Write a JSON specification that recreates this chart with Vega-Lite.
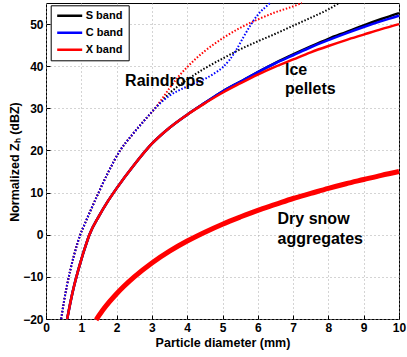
{
  "$schema": "https://vega.github.io/schema/vega-lite/v6.json",
  "width": 353,
  "height": 316,
  "autosize": {"type": "none"},
  "padding": {"left": 46, "top": 3, "right": 8, "bottom": 38},
  "config": {
    "font": "Liberation Sans",
    "view": {"stroke": "black", "strokeWidth": 1},
    "axis": {
      "grid": true,
      "gridDash": [1, 3],
      "gridColor": "#a8a8a8",
      "gridWidth": 1,
      "domain": false,
      "ticks": true,
      "tickSize": -4,
      "tickColor": "black",
      "labelFont": "Liberation Sans",
      "labelFontSize": 12,
      "labelFontWeight": "bold",
      "labelColor": "black",
      "labelFlush": false,
      "labelOverlap": false,
      "titleFont": "Liberation Sans",
      "titleFontSize": 12.5,
      "titleFontWeight": "bold",
      "titleColor": "black"
    },
    "axisX": {"labelPadding": 7},
    "axisY": {"labelPadding": 7}
  },
  "datasets": {
    "ice": [
      {"band": "S band", "d": 0.6, "z": -20}, {"band": "S band", "d": 0.7, "z": -15.7}, {"band": "S band", "d": 0.8, "z": -12.0},
      {"band": "S band", "d": 0.9, "z": -8.8}, {"band": "S band", "d": 1.0, "z": -5.9}, {"band": "S band", "d": 1.1, "z": -3.2},
      {"band": "S band", "d": 1.23, "z": 0}, {"band": "S band", "d": 1.5, "z": 4.4}, {"band": "S band", "d": 1.75, "z": 7.9},
      {"band": "S band", "d": 2.0, "z": 11.0}, {"band": "S band", "d": 2.5, "z": 16.6}, {"band": "S band", "d": 3.0, "z": 21.6},
      {"band": "S band", "d": 3.5, "z": 25.4}, {"band": "S band", "d": 4.0, "z": 28.5}, {"band": "S band", "d": 4.5, "z": 31.3},
      {"band": "S band", "d": 5.0, "z": 34.0}, {"band": "S band", "d": 5.5, "z": 36.3}, {"band": "S band", "d": 6.0, "z": 38.6},
      {"band": "S band", "d": 6.5, "z": 40.8}, {"band": "S band", "d": 7.0, "z": 42.8}, {"band": "S band", "d": 7.5, "z": 44.7},
      {"band": "S band", "d": 8.0, "z": 46.5}, {"band": "S band", "d": 8.5, "z": 48.1}, {"band": "S band", "d": 9.0, "z": 49.7},
      {"band": "S band", "d": 9.5, "z": 51.2}, {"band": "S band", "d": 10, "z": 52.6},

      {"band": "C band", "d": 0.6, "z": -20}, {"band": "C band", "d": 0.7, "z": -15.7}, {"band": "C band", "d": 0.8, "z": -12.0},
      {"band": "C band", "d": 0.9, "z": -8.8}, {"band": "C band", "d": 1.0, "z": -5.9}, {"band": "C band", "d": 1.1, "z": -3.2},
      {"band": "C band", "d": 1.23, "z": 0}, {"band": "C band", "d": 1.5, "z": 4.4}, {"band": "C band", "d": 1.75, "z": 7.9},
      {"band": "C band", "d": 2.0, "z": 11.0}, {"band": "C band", "d": 2.5, "z": 16.6}, {"band": "C band", "d": 3.0, "z": 21.6},
      {"band": "C band", "d": 3.5, "z": 25.4}, {"band": "C band", "d": 4.0, "z": 28.5}, {"band": "C band", "d": 4.5, "z": 31.3},
      {"band": "C band", "d": 5.0, "z": 34.0}, {"band": "C band", "d": 5.5, "z": 36.3}, {"band": "C band", "d": 6.0, "z": 38.6},
      {"band": "C band", "d": 6.5, "z": 40.7}, {"band": "C band", "d": 7.0, "z": 42.6}, {"band": "C band", "d": 7.5, "z": 44.5},
      {"band": "C band", "d": 8.0, "z": 46.2}, {"band": "C band", "d": 8.5, "z": 47.8}, {"band": "C band", "d": 9.0, "z": 49.3},
      {"band": "C band", "d": 9.5, "z": 50.7}, {"band": "C band", "d": 10, "z": 52.0},

      {"band": "X band", "d": 0.6, "z": -20}, {"band": "X band", "d": 0.7, "z": -15.7}, {"band": "X band", "d": 0.8, "z": -12.0},
      {"band": "X band", "d": 0.9, "z": -8.8}, {"band": "X band", "d": 1.0, "z": -5.9}, {"band": "X band", "d": 1.1, "z": -3.2},
      {"band": "X band", "d": 1.23, "z": 0}, {"band": "X band", "d": 1.5, "z": 4.4}, {"band": "X band", "d": 1.75, "z": 7.9},
      {"band": "X band", "d": 2.0, "z": 11.0}, {"band": "X band", "d": 2.5, "z": 16.6}, {"band": "X band", "d": 3.0, "z": 21.6},
      {"band": "X band", "d": 3.5, "z": 25.4}, {"band": "X band", "d": 4.0, "z": 28.5}, {"band": "X band", "d": 4.5, "z": 31.2},
      {"band": "X band", "d": 5.0, "z": 33.7}, {"band": "X band", "d": 5.5, "z": 35.9}, {"band": "X band", "d": 6.0, "z": 38.0},
      {"band": "X band", "d": 6.5, "z": 39.9}, {"band": "X band", "d": 7.0, "z": 41.6}, {"band": "X band", "d": 7.5, "z": 43.3},
      {"band": "X band", "d": 8.0, "z": 44.8}, {"band": "X band", "d": 8.5, "z": 46.2}, {"band": "X band", "d": 9.0, "z": 47.5},
      {"band": "X band", "d": 9.5, "z": 48.8}, {"band": "X band", "d": 10, "z": 50.0}
    ],
    "rain": [
      {"band": "S band", "d": 0.43, "z": -20}, {"band": "S band", "d": 0.5, "z": -16.3}, {"band": "S band", "d": 0.6, "z": -11.8},
      {"band": "S band", "d": 0.7, "z": -8.0}, {"band": "S band", "d": 0.8, "z": -4.7}, {"band": "S band", "d": 0.9, "z": -1.8},
      {"band": "S band", "d": 0.97, "z": 0}, {"band": "S band", "d": 1.1, "z": 2.6}, {"band": "S band", "d": 1.25, "z": 5.5},
      {"band": "S band", "d": 1.49, "z": 10}, {"band": "S band", "d": 1.75, "z": 14.6}, {"band": "S band", "d": 2.1, "z": 20},
      {"band": "S band", "d": 2.4, "z": 23.3}, {"band": "S band", "d": 2.67, "z": 26.0}, {"band": "S band", "d": 2.9, "z": 28.2},
      {"band": "S band", "d": 3.09, "z": 30}, {"band": "S band", "d": 3.3, "z": 31.9}, {"band": "S band", "d": 3.5, "z": 33.6},
      {"band": "S band", "d": 3.75, "z": 35.3}, {"band": "S band", "d": 4.0, "z": 36.8}, {"band": "S band", "d": 4.5, "z": 39.5},
      {"band": "S band", "d": 5.0, "z": 41.8}, {"band": "S band", "d": 5.5, "z": 44.0}, {"band": "S band", "d": 6.0, "z": 45.9},
      {"band": "S band", "d": 6.5, "z": 47.7}, {"band": "S band", "d": 7.0, "z": 49.6}, {"band": "S band", "d": 7.5, "z": 51.5},
      {"band": "S band", "d": 8.0, "z": 53.5}, {"band": "S band", "d": 8.3, "z": 55},

      {"band": "X band", "d": 0.43, "z": -20}, {"band": "X band", "d": 0.5, "z": -16.3}, {"band": "X band", "d": 0.6, "z": -11.8},
      {"band": "X band", "d": 0.7, "z": -8.0}, {"band": "X band", "d": 0.8, "z": -4.7}, {"band": "X band", "d": 0.9, "z": -1.8},
      {"band": "X band", "d": 0.97, "z": 0}, {"band": "X band", "d": 1.1, "z": 2.6}, {"band": "X band", "d": 1.25, "z": 5.5},
      {"band": "X band", "d": 1.49, "z": 10}, {"band": "X band", "d": 1.75, "z": 14.6}, {"band": "X band", "d": 2.1, "z": 20},
      {"band": "X band", "d": 2.4, "z": 23.3}, {"band": "X band", "d": 2.67, "z": 26.0}, {"band": "X band", "d": 2.9, "z": 28.2},
      {"band": "X band", "d": 3.09, "z": 30}, {"band": "X band", "d": 3.3, "z": 32.4}, {"band": "X band", "d": 3.5, "z": 34.8},
      {"band": "X band", "d": 3.75, "z": 37.5}, {"band": "X band", "d": 4.0, "z": 39.8}, {"band": "X band", "d": 4.5, "z": 43.6},
      {"band": "X band", "d": 5.0, "z": 46.6}, {"band": "X band", "d": 5.5, "z": 49.1}, {"band": "X band", "d": 6.0, "z": 51.1},
      {"band": "X band", "d": 6.5, "z": 52.8}, {"band": "X band", "d": 7.0, "z": 54.2}, {"band": "X band", "d": 7.25, "z": 55},

      {"band": "C band", "d": 0.43, "z": -20}, {"band": "C band", "d": 0.5, "z": -16.3}, {"band": "C band", "d": 0.6, "z": -11.8},
      {"band": "C band", "d": 0.7, "z": -8.0}, {"band": "C band", "d": 0.8, "z": -4.7}, {"band": "C band", "d": 0.9, "z": -1.8},
      {"band": "C band", "d": 0.97, "z": 0}, {"band": "C band", "d": 1.1, "z": 2.6}, {"band": "C band", "d": 1.25, "z": 5.5},
      {"band": "C band", "d": 1.49, "z": 10}, {"band": "C band", "d": 1.75, "z": 14.6}, {"band": "C band", "d": 2.1, "z": 20},
      {"band": "C band", "d": 2.4, "z": 23.3}, {"band": "C band", "d": 2.67, "z": 26.0}, {"band": "C band", "d": 2.9, "z": 28.2},
      {"band": "C band", "d": 3.09, "z": 30}, {"band": "C band", "d": 3.3, "z": 31.7}, {"band": "C band", "d": 3.5, "z": 33.0},
      {"band": "C band", "d": 3.75, "z": 34.2}, {"band": "C band", "d": 4.0, "z": 35.2}, {"band": "C band", "d": 4.25, "z": 36.1},
      {"band": "C band", "d": 4.5, "z": 37.0}, {"band": "C band", "d": 4.75, "z": 38.2}, {"band": "C band", "d": 5.0, "z": 39.7},
      {"band": "C band", "d": 5.2, "z": 41.5}, {"band": "C band", "d": 5.4, "z": 44.0}, {"band": "C band", "d": 5.6, "z": 47.0},
      {"band": "C band", "d": 5.8, "z": 49.8}, {"band": "C band", "d": 6.0, "z": 52.2}, {"band": "C band", "d": 6.2, "z": 53.9},
      {"band": "C band", "d": 6.35, "z": 55}
    ],
    "snow": [
      {"band": "X band", "d": 1.42, "z": -20.2}, {"band": "X band", "d": 1.6, "z": -18.0}, {"band": "X band", "d": 1.8, "z": -15.9},
      {"band": "X band", "d": 2.0, "z": -14.0}, {"band": "X band", "d": 2.5, "z": -10.0}, {"band": "X band", "d": 3.0, "z": -6.7},
      {"band": "X band", "d": 3.5, "z": -3.9}, {"band": "X band", "d": 4.0, "z": -1.5}, {"band": "X band", "d": 4.5, "z": 0.6},
      {"band": "X band", "d": 5.0, "z": 2.5}, {"band": "X band", "d": 5.5, "z": 4.2}, {"band": "X band", "d": 6.0, "z": 5.8},
      {"band": "X band", "d": 6.5, "z": 7.2}, {"band": "X band", "d": 7.0, "z": 8.6}, {"band": "X band", "d": 7.5, "z": 9.8},
      {"band": "X band", "d": 8.0, "z": 11.0}, {"band": "X band", "d": 8.5, "z": 12.1}, {"band": "X band", "d": 9.0, "z": 13.1},
      {"band": "X band", "d": 9.5, "z": 14.1}, {"band": "X band", "d": 10, "z": 15.0}
    ],
    "notes": [
      {"label": "Raindrops", "d": 2.24, "z": 35.3},
      {"label": "Ice", "d": 6.77, "z": 37.9},
      {"label": "pellets", "d": 6.77, "z": 33.4},
      {"label": "Dry snow", "d": 6.56, "z": 2.5},
      {"label": "aggregates", "d": 6.56, "z": -2.2}
    ]
  },
  "encoding": {
    "x": {
      "field": "d", "type": "quantitative",
      "scale": {"domain": [0, 10], "nice": false, "zero": false},
      "axis": {
        "title": "Particle diameter (mm)",
        "values": [0, 1, 2, 3, 4, 5, 6, 7, 8, 9, 10],
        "titleBaseline": "alphabetic",
        "titleY": 27
      }
    },
    "y": {
      "field": "z", "type": "quantitative",
      "scale": {"domain": [-20, 55], "nice": false, "zero": false},
      "axis": {
        "title": "Normalized Zₕ (dBZ)",
        "values": [-20, -10, 0, 10, 20, 30, 40, 50],
        "titleAngle": 270,
        "titleBaseline": "alphabetic",
        "titleAlign": "center",
        "titleX": -27.5,
        "titleY": 158.5
      }
    }
  },
  "layer": [
    {
      "data": {"name": "ice"},
      "mark": {"type": "line", "strokeWidth": 2.5, "strokeCap": "butt", "interpolate": "monotone"},
      "encoding": {
        "color": {
          "field": "band", "type": "nominal",
          "scale": {"domain": ["S band", "C band", "X band"], "range": ["#000000", "#0000ff", "#ff0000"]},
          "legend": {
            "title": null,
            "orient": "none",
            "legendX": 4.7,
            "legendY": 2.3,
            "fillColor": "white",
            "strokeColor": "black",
            "padding": 5,
            "symbolType": "stroke",
            "symbolSize": 625,
            "symbolStrokeWidth": 2.5,
            "symbolDash": [],
            "clipHeight": 11,
            "labelFont": "Liberation Sans",
            "labelFontSize": 11,
            "labelFontWeight": "bold",
            "labelColor": "black",
            "labelOffset": 2,
            "rowPadding": 5
          }
        }
      }
    },
    {
      "data": {"name": "rain"},
      "mark": {"type": "line", "strokeWidth": 2, "strokeDash": [1.5, 1.8], "strokeCap": "butt", "interpolate": "monotone"},
      "encoding": {
        "color": {"field": "band", "type": "nominal"}
      }
    },
    {
      "data": {"name": "snow"},
      "mark": {"type": "line", "strokeWidth": 5, "strokeCap": "butt", "interpolate": "monotone"},
      "encoding": {
        "color": {"field": "band", "type": "nominal"}
      }
    },
    {
      "data": {"name": "notes"},
      "mark": {"type": "text", "align": "left", "baseline": "alphabetic", "font": "Liberation Sans", "fontSize": 16, "fontWeight": "bold", "color": "black"},
      "encoding": {
        "text": {"field": "label"}
      }
    }
  ]
}
